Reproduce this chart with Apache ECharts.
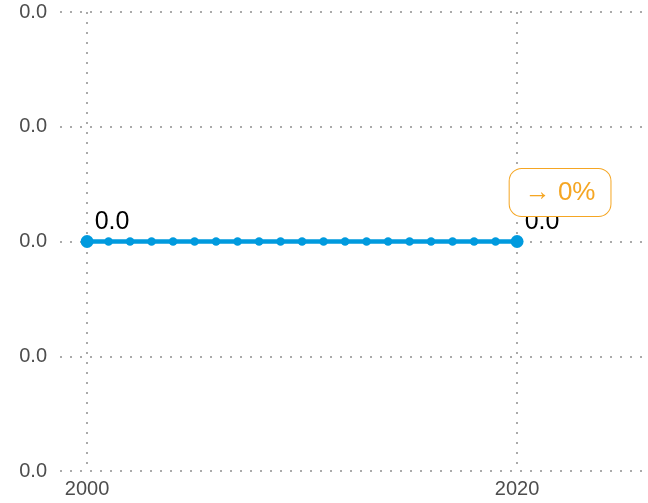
<!DOCTYPE html>
<html>
<head>
<meta charset="utf-8">
<script src="https://cdn.jsdelivr.net/npm/echarts@6/dist/echarts.min.js"></script>
<style>
  html, body { margin: 0; padding: 0; background: #fff; }
  #chart { width: 648px; height: 503px; }
</style>
</head>
<body>
<div id="chart"></div>
<script>
// data
const years = [2000, 2001, 2002, 2003, 2004, 2005, 2006, 2007, 2008, 2009, 2010,
  2011, 2012, 2013, 2014, 2015, 2016, 2017, 2018, 2019, 2020];
const values = [0, 0, 0, 0, 0, 0, 0, 0, 0, 0, 0, 0, 0, 0, 0, 0, 0, 0, 0, 0, 0];
const xTicks = [2000, 2020];
const changeLabel = "→ 0%";

const lineColor = "#009ade";
const accent = "#f5a623";
const gridColor = "#aaaaaa";
const dots = [2, 8];
const font = "Liberation Sans";

const chart = echarts.init(document.getElementById("chart"));
const last = years.length - 1;

chart.setOption({
  animation: false,
  grid: { left: 60, right: 0, top: 12, bottom: 32 },
  xAxis: {
    type: "value",
    min: 1998.74,
    max: 2026.09,
    axisLine: { show: false },
    axisTick: { show: false, customValues: xTicks },
    axisLabel: {
      customValues: xTicks,
      color: "#4d4d4d",
      fontSize: 20,
      fontFamily: font,
      margin: 8,
      formatter: (v) => String(v),
    },
    splitLine: {
      show: true,
      lineStyle: { color: gridColor, width: 2, type: dots },
    },
  },
  yAxis: {
    type: "value",
    min: -0.02,
    max: 0.02,
    interval: 0.01,
    axisLine: { show: false },
    axisTick: { show: false },
    axisLabel: {
      color: "#4d4d4d",
      fontSize: 20,
      fontFamily: font,
      margin: 13,
      formatter: (v) => Math.abs(v).toFixed(1),
    },
    splitLine: {
      lineStyle: { color: gridColor, width: 2, type: dots },
    },
  },
  series: [
    {
      type: "line",
      data: years.map((y, i) => [y, values[i]]),
      color: lineColor,
      lineStyle: { width: 4.5 },
      symbol: "circle",
      symbolSize: (v, p) => (p.dataIndex === 0 || p.dataIndex === last ? 13 : 8.5),
      label: {
        show: true,
        position: "top",
        offset: [25, 5],
        color: "#000",
        fontSize: 25,
        fontFamily: font,
        formatter: (p) =>
          p.dataIndex === 0 || p.dataIndex === last ? p.value[1].toFixed(1) : "",
      },
      markPoint: {
        symbol: "circle",
        symbolSize: 1,
        itemStyle: { color: "rgba(0,0,0,0)" },
        data: [{ coord: [years[last], values[last]] }],
        label: {
          show: true,
          position: "inside",
          formatter: changeLabel,
          color: accent,
          fontSize: 26,
          fontFamily: font,
          backgroundColor: "#fff",
          borderColor: accent,
          borderWidth: 1,
          borderRadius: 12,
          padding: [11, 15, 10, 15],
          offset: [43, -49],
        },
        z: 10,
      },
      z: 3,
    },
  ],
});
</script>
</body>
</html>
